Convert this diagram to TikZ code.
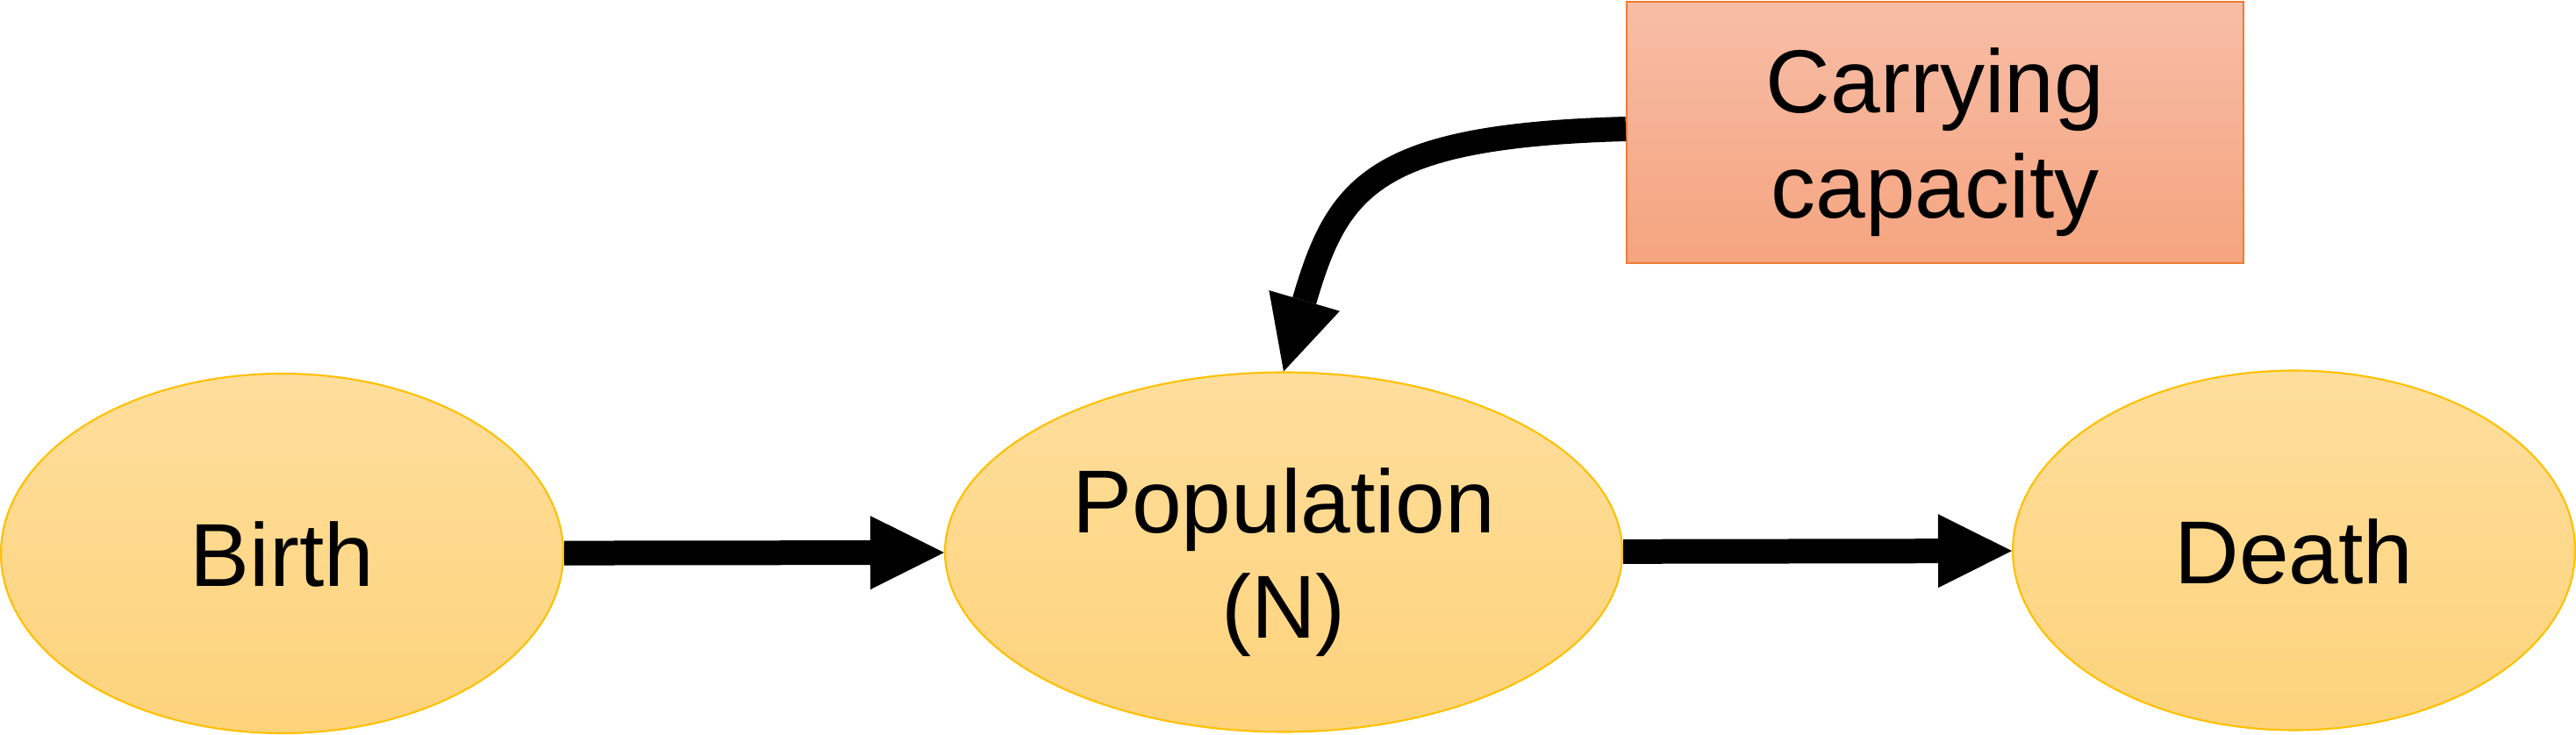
\documentclass[tikz,border=0pt]{standalone}
\usepackage{fontspec}
\setmainfont{Liberation Sans}
\usepackage{xcolor}
\usetikzlibrary{shapes,arrows.meta,positioning,calc}

\definecolor{stockline}{HTML}{FFC000}
\definecolor{stocktop}{HTML}{FFDE9C}
\definecolor{stockbot}{HTML}{FDD37B}
\definecolor{capline}{HTML}{ED7D31}
\definecolor{captop}{HTML}{F7BDA6}
\definecolor{capbot}{HTML}{F5A47F}
\newcommand{\txtstrut}{\rule[-6.3pt]{0pt}{34pt}}

\begin{document}
\begin{tikzpicture}[
    stock/.style={ellipse, draw=stockline, line width=0.6pt,
        top color=stocktop, bottom color=stockbot,
        minimum width=6.41cm, minimum height=4.1cm, inner sep=0pt,
        align=center, font=\fontsize{29}{34.2}\selectfont},
    limit/.style={rectangle, draw=capline, line width=0.6pt,
        top color=captop, bottom color=capbot,
        minimum width=7.03cm, minimum height=2.98cm, inner sep=0pt,
        align=center, font=\fontsize{29}{34.2}\selectfont},
    flow/.style={line width=0.28cm,
        -{Triangle[length=0.84cm,width=0.84cm,line width=0pt]}}
]
    \useasboundingbox (0,0) rectangle (29.36,8.37);

    % Stocks
    \node[stock] (birth) at (3.215,2.06) {\txtstrut Birth};
    \node[stock, minimum width=7.72cm] (pop) at (14.63,2.075) {\txtstrut Population\\\txtstrut(N)};
    \node[stock] (death) at (26.145,2.095) {\txtstrut Death};

    % Limit
    \node[limit] (cap) at (22.055,6.86) {\txtstrut Carrying\\\txtstrut capacity};

    % Flows
    \draw[flow] (birth) -- (pop);
    \draw[flow] (pop) -- (death);
    \draw[flow] ($(cap.west)+(0,0.04)$) .. controls (15.65,6.82) and (15.25,6.25) .. (pop.north);
\end{tikzpicture}
\end{document}
